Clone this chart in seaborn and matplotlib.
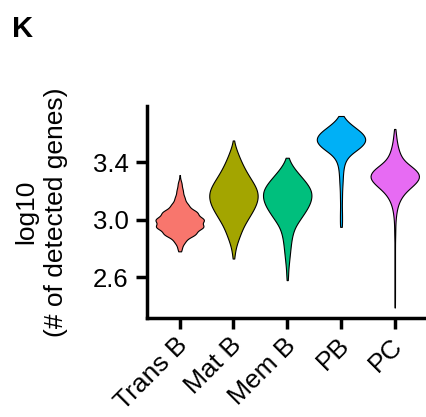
import numpy as np
import pandas as pd
import matplotlib
matplotlib.use("Agg")
import matplotlib.pyplot as plt
from matplotlib.transforms import ScaledTranslation
import seaborn as sns

# cell types and ggplot-style hue colours
cell_types = ["Trans B", "Mat B", "Mem B", "PB", "PC"]
colors = ["#F8766D", "#A3A500", "#00BF7D", "#00B0F6", "#E76BF3"]

trans_b_vals = [2.78, 2.80, 2.85, 2.90, 2.95, 3.00, 3.05, 3.10, 3.15, 3.20, 3.25, 3.31]
trans_b_counts = [1, 8, 22, 65, 98, 100, 72, 35, 20, 13, 8, 1]

mat_b_vals = [2.73, 2.75, 2.80, 2.85, 2.90, 2.95, 3.00, 3.05, 3.10, 3.15, 3.20, 3.25,
              3.30, 3.35, 3.40, 3.45, 3.50, 3.55]
mat_b_counts = [1, 4, 8, 17, 28, 39, 56, 74, 90, 99, 97, 82, 63, 46, 32, 20, 9, 1]

mem_b_vals = [2.58, 2.60, 2.65, 2.70, 2.75, 2.80, 2.85, 2.90, 2.95, 3.00, 3.05, 3.10,
              3.15, 3.20, 3.25, 3.30, 3.35, 3.40, 3.43]
mem_b_counts = [1, 3, 4, 7, 10, 13, 16, 21, 30, 50, 70, 88, 98, 98, 80, 55, 30, 10, 1]

pb_vals = [2.95, 3.00, 3.05, 3.10, 3.15, 3.20, 3.25, 3.30, 3.35, 3.40, 3.45, 3.50,
           3.55, 3.60, 3.65, 3.70, 3.72]
pb_counts = [4, 4, 4, 3, 4, 4, 6, 7, 9, 14, 30, 75, 100, 85, 45, 12, 1]

pc_vals = [2.39, 2.45, 2.50, 2.55, 2.60, 2.65, 2.70, 2.75, 2.80, 2.85, 2.90, 2.95,
           3.00, 3.05, 3.10, 3.15, 3.20, 3.25, 3.30, 3.35, 3.40, 3.45, 3.50, 3.55,
           3.60, 3.63]
pc_counts = [1, 1, 1, 1, 1, 1, 1, 1, 1, 1, 2, 2, 3, 6, 11, 22, 42, 78, 100, 80,
             35, 20, 12, 7, 4, 1]

groups = {
    "Trans B": (trans_b_vals, trans_b_counts),
    "Mat B": (mat_b_vals, mat_b_counts),
    "Mem B": (mem_b_vals, mem_b_counts),
    "PB": (pb_vals, pb_counts),
    "PC": (pc_vals, pc_counts),
}

rows = []
for name, (vals, counts) in groups.items():
    for v, c in zip(vals, counts):
        rows += [(name, v)] * c
df = pd.DataFrame(rows, columns=["cell", "genes"])

plt.rcParams["font.family"] = ["Liberation Sans", "DejaVu Sans"]

fig = plt.figure(figsize=(4.27, 4.17), dpi=100)
ax = fig.add_axes([0.344, 0.2374, 0.656, 0.5086])

sns.violinplot(data=df, x="cell", y="genes", hue="cell", order=cell_types,
               hue_order=cell_types, palette=colors, saturation=1, legend=False,
               inner=None, cut=0, density_norm="width", width=0.9,
               bw_method=0.25, linewidth=0.8, linecolor="black", ax=ax)

ax.set_xlim(-0.61, 4.6)
ax.set_ylim(2.317, 3.79)
ax.set_yticks([2.6, 3.0, 3.4])
ax.set_yticklabels(["2.6", "3.0", "3.4"])
ax.set_xlabel("")
ax.set_ylabel("log10\n(# of detected genes)", fontsize=19, linespacing=1.3)
ax.yaxis.set_label_coords(-0.282, 0.5)

for s in ["top", "right"]:
    ax.spines[s].set_visible(False)
for s in ["left", "bottom"]:
    ax.spines[s].set_linewidth(2.5)
ax.tick_params(axis="both", width=2.5, length=8, color="black")
ax.tick_params(axis="y", labelsize=18.5, pad=5)
ax.tick_params(axis="x", labelsize=19, pad=3)
shift = ScaledTranslation(-3 / 72, 0, fig.dpi_scale_trans)
for lab in ax.get_xticklabels():
    lab.set_rotation(45)
    lab.set_ha("right")
    lab.set_rotation_mode("anchor")
    lab.set_transform(lab.get_transform() + shift)

fig.text(0.028, 0.911, "K", fontsize=21, fontweight="bold", va="baseline")

fig.savefig("out.png", dpi=100)
